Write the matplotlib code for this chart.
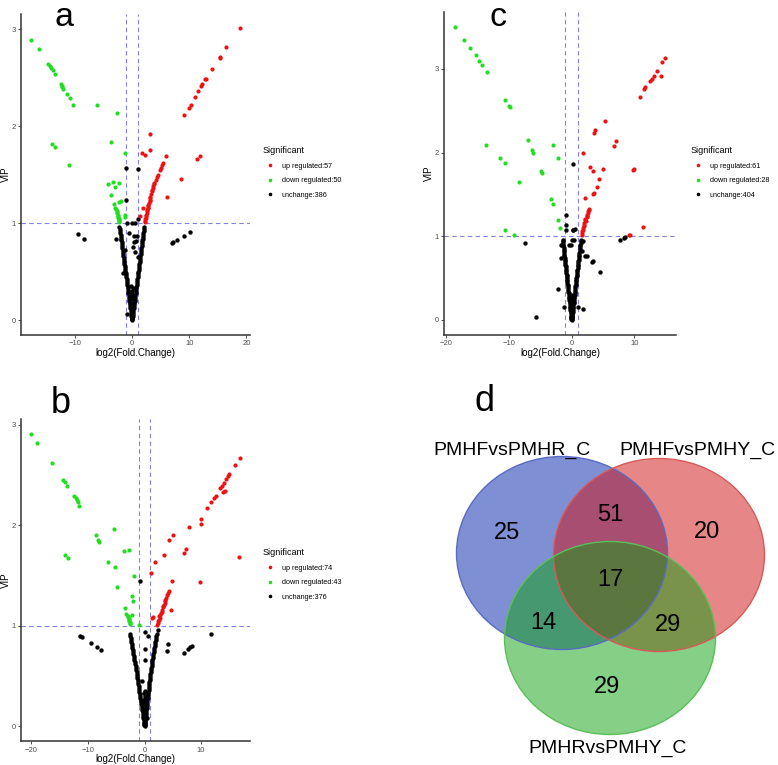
import matplotlib
matplotlib.use("Agg")
import matplotlib.pyplot as plt
from matplotlib.lines import Line2D
from matplotlib.patches import Ellipse

plt.rcParams['font.family'] = ['Liberation Sans', 'DejaVu Sans']

# ---------------- Panel a data ----------------
a_up_x = [18.8, 16.5, 15.4, 15.3, 14.0, 12.9, 12.7, 12.3, 12.1, 11.5, 11.0, 10.3, 9.9, 9.1,
          3.2, 3.2, 1.7, 2.3, 5.9, 5.4, 5.3, 4.9, 4.4, 3.9, 3.7, 3.5, 3.3, 3.2, 3.1, 2.8, 2.7,
          2.4, 2.3, 2.2, 1.9, 1.3, 11.8, 11.4, 8.6, 6.1,
          2.25, 2.35, 2.45, 2.55, 2.6, 2.65, 2.75, 2.85, 2.95, 3.05, 3.15, 3.4, 3.6, 3.8, 4.1, 4.6, 5.0]
a_up_y = [3.01, 2.82, 2.71, 2.70, 2.59, 2.49, 2.48, 2.43, 2.41, 2.36, 2.30, 2.22, 2.19, 2.11,
          1.92, 1.75, 1.72, 1.70, 1.69, 1.62, 1.60, 1.55, 1.47, 1.41, 1.38, 1.34, 1.30, 1.26, 1.23, 1.19, 1.16,
          1.08, 1.04, 1.01, 1.16, 1.07, 1.69, 1.66, 1.45, 1.27,
          1.02, 1.05, 1.07, 1.10, 1.12, 1.13, 1.15, 1.18, 1.21, 1.24, 1.27, 1.33, 1.36, 1.40, 1.44, 1.50, 1.57]
a_down_x = [-17.6, -16.2, -14.7, -14.4, -14.1, -13.9, -13.5, -12.5, -12.3, -12.2, -12.1, -11.4, -10.9,
            -10.3, -6.1, -2.7, -14.0, -13.4, -11.0, -3.7, -1.2, -4.2, -3.4, -2.2, -3.0, -3.7, -2.0,
            -2.2, -3.1, -2.8, -2.7, -2.5, -1.2, -1.2, -2.4, -2.2, -2.3, -2.5, -2.6, -2.3, -2.9, -2.6,
            -2.4, -2.35, -2.25]
a_down_y = [2.89, 2.79, 2.64, 2.62, 2.60, 2.58, 2.54, 2.43, 2.41, 2.40, 2.38, 2.33, 2.29,
            2.22, 2.22, 2.13, 1.81, 1.78, 1.60, 1.84, 1.72, 1.40, 1.42, 1.41, 1.37, 1.29, 1.23,
            1.22, 1.20, 1.14, 1.11, 1.08, 1.08, 1.06, 1.05, 1.02, 1.03, 1.07, 1.10, 1.04, 1.16, 1.12,
            1.06, 1.04, 1.01]
a_ns_x = [-0.03, -0.05, -0.08, -0.10, -0.14, -0.18, -0.23, -0.28, -0.32, -0.37, -0.41, -0.46, -0.51,
          -0.55, -0.60, -0.64, -0.69, -0.74, -0.78, -0.83, -0.87, -0.92, -0.97, -1.01, -1.06, -1.10,
          -1.15, -1.20, -1.24, -1.29, -1.33, -1.38, -1.43, -1.47, -1.52, -1.56, -1.61, -1.66, -1.70,
          -1.75, -1.79, -1.84, -1.89, -1.93, -1.98, -2.02, -2.07, -2.12, -2.16, -2.21,
          0.02, 0.04, 0.07, 0.09, 0.13, 0.18, 0.22, 0.26, 0.31, 0.35, 0.40, 0.44, 0.48, 0.53, 0.57,
          0.62, 0.66, 0.70, 0.75, 0.79, 0.84, 0.88, 0.92, 0.97, 1.01, 1.06, 1.10, 1.14, 1.19, 1.23,
          1.28, 1.32, 1.36, 1.41, 1.45, 1.50, 1.54, 1.58, 1.63, 1.67, 1.72, 1.76, 1.80, 1.85, 1.89,
          1.94, 1.98, 2.02, 2.07, 2.11,
          0.0, 0.05, -0.02, 0.03, -0.05, 0.04, 0.0, 0.02, -0.1, 0.1, -0.15, 0.12,
          -9.4, -8.4, -2.8, -1.0, 1.0, -1.0, -0.87, -0.05, 0.5, 1.0, 0.4, 0.9, 0.3, -0.6, 0.5,
          -1.6, -0.9, 7.0, 7.2, 7.8, 9.1, 10.1, 0.75, 0.1, -1.2, 1.1]
a_ns_y = [0.01, 0.02, 0.03, 0.04, 0.06, 0.08, 0.10, 0.12, 0.14, 0.16, 0.18, 0.20, 0.22,
          0.24, 0.26, 0.28, 0.30, 0.32, 0.34, 0.36, 0.38, 0.40, 0.42, 0.44, 0.46, 0.48,
          0.50, 0.52, 0.54, 0.56, 0.58, 0.60, 0.62, 0.64, 0.66, 0.68, 0.70, 0.72, 0.74,
          0.76, 0.78, 0.80, 0.82, 0.84, 0.86, 0.88, 0.90, 0.92, 0.94, 0.96,
          0.01, 0.02, 0.03, 0.04, 0.06, 0.08, 0.10, 0.12, 0.14, 0.16, 0.18, 0.20, 0.22, 0.24, 0.26,
          0.28, 0.30, 0.32, 0.34, 0.36, 0.38, 0.40, 0.42, 0.44, 0.46, 0.48, 0.50, 0.52, 0.54, 0.56,
          0.58, 0.60, 0.62, 0.64, 0.66, 0.68, 0.70, 0.72, 0.74, 0.76, 0.78, 0.80, 0.82, 0.84, 0.86,
          0.88, 0.90, 0.92, 0.94, 0.96,
          0.0, 0.05, 0.12, 0.18, 0.25, 0.30, 0.08, 0.22, 0.28, 0.33, 0.35, 0.26,
          0.89, 0.84, 0.84, 1.57, 1.56, 1.24, 1.0, 1.0, 1.0, 1.04, 0.87, 0.87, 0.80, 0.90, 0.70,
          0.48, 0.06, 0.79, 0.80, 0.82, 0.87, 0.91, 0.81, 0.75, 0.72, 0.65]
a_legend = ["up regulated:57", "down regulated:50", "unchange:386"]

# ---------------- Panel b data ----------------
b_up_x = [16.8, 16.0, 15.0, 14.7, 14.4, 14.0, 13.7, 13.4, 13.8, 14.2, 12.6, 12.3, 11.8, 11.1, 10.0,
          10.0, 7.8, 5.1, 4.4, 3.5, 1.8, 1.2, 4.9, 7.4, 7.0, 9.8, 16.7, 4.6, 1.5, 1.4,
          4.3, 4.0, 3.7, 3.4, 3.1, 2.8, 2.5, 2.2, 2.35, 2.65, 2.95, 3.25, 3.55, 3.85, 4.15,
          2.4, 2.6, 3.0, 3.3, 3.6]
b_up_y = [2.67, 2.60, 2.51, 2.49, 2.46, 2.42, 2.39, 2.37, 2.33, 2.34, 2.29, 2.27, 2.23, 2.17, 2.06,
          2.01, 1.98, 1.90, 1.85, 1.70, 1.63, 1.52, 1.45, 1.76, 1.72, 1.44, 1.68, 1.16, 1.09, 1.08,
          1.35, 1.31, 1.26, 1.21, 1.16, 1.11, 1.06, 1.01, 1.03, 1.08, 1.13, 1.19, 1.23, 1.28, 1.33,
          1.05, 1.10, 1.14, 1.20, 1.25]
b_down_x = [-20.0, -19.0, -16.3, -14.4, -14.1, -13.7, -12.5, -12.2, -11.9, -11.7, -11.5, -14.1, -13.5,
            -8.6, -8.2, -8.0, -5.4, -3.7, -2.7, -6.4, -5.2, -4.9, -1.8, -2.3, -2.0, -3.5, -3.2,
            -3.0, -2.3, -2.7, -2.6, -1.06, -2.65, -2.75, -2.8, -2.9, -2.6, -2.7]
b_down_y = [2.91, 2.82, 2.62, 2.45, 2.43, 2.39, 2.29, 2.27, 2.25, 2.23, 2.19, 1.70, 1.67,
            1.90, 1.85, 1.83, 1.96, 1.74, 1.75, 1.63, 1.58, 1.39, 1.49, 1.30, 1.25, 1.18, 1.12,
            1.10, 1.11, 1.07, 1.04, 1.01, 1.02, 1.05, 1.08, 1.09, 1.03, 1.06]
b_ns_x = [-0.02, -0.04, -0.07, -0.10, -0.15, -0.20, -0.25, -0.31, -0.36, -0.42, -0.47, -0.52, -0.57,
          -0.62, -0.68, -0.73, -0.79, -0.84, -0.90, -0.95, -1.00, -1.05, -1.10, -1.15, -1.20, -1.25,
          -1.30, -1.36, -1.41, -1.47, -1.53, -1.59, -1.65, -1.72, -1.78, -1.84, -1.90, -1.96, -2.02,
          -2.09, -2.15, -2.21, -2.27, -2.33, -2.40, -2.46, -2.52, -2.58,
          0.02, 0.03, 0.05, 0.08, 0.11, 0.15, 0.19, 0.23, 0.27, 0.31, 0.35, 0.39, 0.43, 0.47, 0.51,
          0.55, 0.59, 0.63, 0.67, 0.71, 0.75, 0.79, 0.83, 0.87, 0.91, 0.95, 0.99, 1.03, 1.08, 1.13,
          1.18, 1.23, 1.28, 1.33, 1.39, 1.44, 1.50, 1.55, 1.61, 1.66, 1.72, 1.78, 1.84, 1.90, 1.96,
          2.02, 2.08, 2.12,
          0.0, 0.03, -0.03, 0.02, -0.05, 0.05, 0.0, -0.02, 0.08, -0.08, 0.1, -0.1,
          -0.83, -11.4, -11.1, -9.5, -8.4, -7.7, 11.8, 8.4, 8.0, 7.7, 6.9, 4.2, 3.9,
          0.0, 0.65, 0.0, 0.1, 0.5, -0.4, 2.3]
b_ns_y = [0.01, 0.02, 0.03, 0.04, 0.06, 0.08, 0.10, 0.12, 0.14, 0.16, 0.18, 0.20, 0.22,
          0.24, 0.26, 0.28, 0.30, 0.32, 0.34, 0.36, 0.38, 0.40, 0.42, 0.44, 0.46, 0.48,
          0.50, 0.52, 0.54, 0.56, 0.58, 0.60, 0.62, 0.64, 0.66, 0.68, 0.70, 0.72, 0.74,
          0.76, 0.78, 0.80, 0.82, 0.84, 0.86, 0.88, 0.90, 0.92,
          0.01, 0.02, 0.03, 0.04, 0.06, 0.08, 0.10, 0.12, 0.14, 0.16, 0.18, 0.20, 0.22, 0.24, 0.26,
          0.28, 0.30, 0.32, 0.34, 0.36, 0.38, 0.40, 0.42, 0.44, 0.46, 0.48, 0.50, 0.52, 0.54, 0.56,
          0.58, 0.60, 0.62, 0.64, 0.66, 0.68, 0.70, 0.72, 0.74, 0.76, 0.78, 0.80, 0.82, 0.84, 0.86,
          0.88, 0.90, 0.92,
          0.0, 0.05, 0.12, 0.18, 0.25, 0.30, 0.08, 0.22, 0.28, 0.33, 0.35, 0.26,
          1.45, 0.90, 0.89, 0.83, 0.79, 0.76, 0.92, 0.80, 0.79, 0.77, 0.73, 0.82, 0.75,
          0.94, 0.90, 0.77, 0.66, 0.08, 0.45, 0.96]
b_legend = ["up regulated:74", "down regulated:43", "unchange:376"]

# ---------------- Panel c data ----------------
c_up_x = [15.0, 14.5, 13.7, 13.1, 12.8, 12.5, 14.3, 11.8, 11.6, 10.9, 5.4, 3.8, 3.6, 7.1, 6.7, 1.8,
          2.9, 3.5, 5.0, 10.0, 9.8, 4.4, 4.0, 3.6, 3.5, 2.1, 11.4, 9.4, 9.2,
          2.8, 2.6, 2.5, 2.3, 2.0, 1.7, 1.6, 1.65, 1.75, 1.85, 1.95, 2.05, 2.15, 2.2, 2.4, 2.45, 2.7, 2.75]
c_up_y = [3.13, 3.08, 2.98, 2.92, 2.88, 2.86, 2.91, 2.78, 2.76, 2.66, 2.38, 2.27, 2.23, 2.14, 2.08, 1.99,
          1.83, 1.78, 1.80, 1.80, 1.79, 1.68, 1.59, 1.52, 1.50, 1.46, 1.11, 1.02, 1.02,
          1.33, 1.28, 1.23, 1.18, 1.12, 1.06, 1.02, 1.04, 1.08, 1.10, 1.14, 1.16, 1.19, 1.21, 1.24, 1.26, 1.30, 1.31]
c_down_x = [-18.7, -17.2, -16.2, -15.3, -14.8, -14.3, -13.5, -10.6, -10.0, -9.9, -13.6, -11.5, -10.7,
            -7.0, -6.3, -6.1, -4.9, -4.7, -3.0, -2.2, -8.4, -3.3, -3.0, -2.2, -1.9, -10.6, -9.2]
c_down_y = [3.50, 3.35, 3.25, 3.16, 3.10, 3.05, 2.96, 2.63, 2.56, 2.54, 2.09, 1.93, 1.87,
            2.15, 2.03, 2.00, 1.78, 1.76, 2.09, 1.94, 1.65, 1.44, 1.39, 1.20, 1.10, 1.08, 1.02]
c_ns_x = [-0.02, -0.03, -0.05, -0.06, -0.09, -0.12, -0.15, -0.18, -0.21, -0.24, -0.27, -0.30, -0.33,
          -0.36, -0.39, -0.42, -0.45, -0.48, -0.51, -0.54, -0.57, -0.60, -0.63, -0.66, -0.69, -0.72,
          -0.75, -0.78, -0.81, -0.84, -0.87, -0.90, -0.93, -0.96, -0.99, -1.02, -1.05, -1.08, -1.11,
          -1.14, -1.17, -1.20, -1.23, -1.26, -1.29, -1.32, -1.35, -1.38, -1.41, -1.44,
          0.02, 0.03, 0.05, 0.06, 0.09, 0.12, 0.16, 0.19, 0.22, 0.25, 0.28, 0.31, 0.34, 0.37, 0.40,
          0.43, 0.47, 0.50, 0.53, 0.56, 0.59, 0.62, 0.65, 0.68, 0.71, 0.74, 0.78, 0.81, 0.84, 0.87,
          0.90, 0.93, 0.96, 0.99, 1.02, 1.05, 1.09, 1.12, 1.15, 1.18, 1.21, 1.24, 1.27, 1.30, 1.33,
          1.36, 1.40, 1.43, 1.46, 1.49,
          0.0, 0.03, -0.03, 0.02, -0.04, 0.04, 0.0, -0.02,
          -7.4, -5.7, -2.2, -1.65, -1.65, -1.2, -0.96, -0.96, 0.2, 0.6, 0.1, 0.4, -0.4, -0.1,
          1.0, 1.8, 2.2, 2.4, 3.3, 3.4, 4.5, 7.7, 8.4, 8.5, 0.27, 1.6, -0.85, 0.3, 1.9]
c_ns_y = [0.01, 0.02, 0.03, 0.04, 0.06, 0.08, 0.10, 0.12, 0.14, 0.16, 0.18, 0.20, 0.22,
          0.24, 0.26, 0.28, 0.30, 0.32, 0.34, 0.36, 0.38, 0.40, 0.42, 0.44, 0.46, 0.48,
          0.50, 0.52, 0.54, 0.56, 0.58, 0.60, 0.62, 0.64, 0.66, 0.68, 0.70, 0.72, 0.74,
          0.76, 0.78, 0.80, 0.82, 0.84, 0.86, 0.88, 0.90, 0.92, 0.94, 0.96,
          0.01, 0.02, 0.03, 0.04, 0.06, 0.08, 0.10, 0.12, 0.14, 0.16, 0.18, 0.20, 0.22, 0.24, 0.26,
          0.28, 0.30, 0.32, 0.34, 0.36, 0.38, 0.40, 0.42, 0.44, 0.46, 0.48, 0.50, 0.52, 0.54, 0.56,
          0.58, 0.60, 0.62, 0.64, 0.66, 0.68, 0.70, 0.72, 0.74, 0.76, 0.78, 0.80, 0.82, 0.84, 0.86,
          0.88, 0.90, 0.92, 0.94, 0.96,
          0.0, 0.05, 0.12, 0.18, 0.25, 0.30, 0.08, 0.22,
          0.92, 0.04, 0.37, 0.74, 0.90, 0.15, 1.25, 1.13, 1.07, 1.09, 0.96, 0.96, 0.89, 0.89,
          0.16, 0.13, 0.76, 0.77, 0.69, 0.70, 0.57, 0.95, 0.98, 0.99, 1.86, 0.82, 1.07, 1.08, 0.94]
c_legend = ["up regulated:61", "down regulated:28", "unchange:404"]

# ---------------- Panel d (Venn) data ----------------
venn_sets = ["PMHFvsPMHR_C", "PMHFvsPMHY_C", "PMHRvsPMHY_C"]
venn_counts = {"A": 25, "B": 20, "C": 29, "AB": 51, "AC": 14, "BC": 29, "ABC": 17}

W, H = 778, 765
fig = plt.figure(figsize=(W / 100, H / 100), dpi=100)

UP_C = '#EE1111'
DOWN_C = '#22DD22'
NS_C = '#000000'
DASH_C = '#8080E6'


def fr(x0, y0, x1, y1):
    return [x0 / W, 1 - y1 / H, (x1 - x0) / W, (y1 - y0) / H]


def volcano(rect, upx, upy, dnx, dny, nsx, nsy, labels, xticks, leg_xy, letter, letter_xy, lsize):
    ax = fig.add_axes(fr(*rect))
    ax.scatter(nsx, nsy, s=10, c=NS_C, linewidths=0, zorder=3)
    ax.scatter(dnx, dny, s=9, c=DOWN_C, linewidths=0, zorder=3)
    ax.scatter(upx, upy, s=9, c=UP_C, linewidths=0, zorder=3)
    allx = list(upx) + list(dnx) + list(nsx)
    ally = list(upy) + list(dny) + list(nsy) + [0]
    lo, hi = min(allx), max(allx)
    pad = 0.05 * (hi - lo)
    ax.set_xlim(lo - pad, hi + pad)
    ylo, yhi = min(ally), max(ally)
    ypad = 0.05 * (yhi - ylo)
    ax.set_ylim(ylo - ypad, yhi + ypad)
    for xv in (-1, 1):
        ax.axvline(xv, color=DASH_C, lw=0.8, ls=(0, (4, 3)), zorder=1)
    ax.axhline(1, color=DASH_C, lw=0.8, ls=(0, (4, 3)), zorder=1)
    ax.set_xticks(xticks)
    ax.set_yticks([0, 1, 2, 3])
    for s in ('top', 'right'):
        ax.spines[s].set_visible(False)
    for s in ('left', 'bottom'):
        ax.spines[s].set_color('#333333')
        ax.spines[s].set_linewidth(1.1)
    ax.tick_params(labelsize=5.5, labelcolor='#4D4D4D', color='#333333', length=2.5, width=0.6, pad=1.5)
    ax.set_xlabel('log2(Fold.Change)', fontsize=7, labelpad=0.6)
    ax.set_ylabel('VIP', fontsize=7, labelpad=0.2)
    ax.set_facecolor('none')
    handles = [Line2D([], [], marker='o', ls='', color=c, markersize=2.6, markeredgewidth=0)
               for c in (UP_C, DOWN_C, NS_C)]
    ax.legend(handles, labels, title='Significant', loc='upper left',
              bbox_to_anchor=(leg_xy[0] / W, 1 - leg_xy[1] / H), bbox_transform=fig.transFigure,
              frameon=False, fontsize=5.2, title_fontsize=6.5, handlelength=1.9, handletextpad=0.7,
              labelspacing=1.05, borderaxespad=0, borderpad=0, alignment='left')
    fig.text(letter_xy[0] / W, 1 - letter_xy[1] / H, letter, fontsize=lsize,
             ha='center', va='baseline')
    return ax


volcano((21, 13.5, 250, 334.6), a_up_x, a_up_y, a_down_x, a_down_y, a_ns_x, a_ns_y,
        a_legend, [-10, 0, 10, 20], (263, 146), 'a', (64, 26.5), 24.5)
volcano((21, 419, 250, 741), b_up_x, b_up_y, b_down_x, b_down_y, b_ns_x, b_ns_y,
        b_legend, [-20, -10, 0, 10], (263, 548), 'b', (61, 413), 26)
volcano((444, 12.4, 676, 334.6), c_up_x, c_up_y, c_down_x, c_down_y, c_ns_x, c_ns_y,
        c_legend, [-20, -10, 0, 10], (691, 146), 'c', (498, 26.5), 24.5)

# Venn diagram
axv = fig.add_axes(fr(430, 380, 778, 765))
axv.set_xlim(430, 778)
axv.set_ylim(765, 380)
axv.axis('off')
circles = [((562, 553), '#0120A9', '#5A6CC0'),
           ((659, 555), '#D10F0F', '#D65A5A'),
           ((610, 638), '#0FA10F', '#5BBE5B')]
for (cx, cy), fc, ec in circles:
    axv.add_patch(Ellipse((cx, cy), 211, 193, facecolor=fc, alpha=0.5, edgecolor='none'))
for (cx, cy), fc, ec in circles:
    axv.add_patch(Ellipse((cx, cy), 211, 193, fill=False, edgecolor=ec, lw=1.0))

label_pos = [(512, 450), (697, 450), (608, 748)]
for name, (lx, ly) in zip(venn_sets, label_pos):
    axv.text(lx, ly, name, fontsize=14, ha='center', va='center')

count_pos = {"A": (507, 533), "AB": (610, 515), "B": (707, 532), "ABC": (610, 580),
             "AC": (543, 623), "BC": (668, 625), "C": (607, 687)}
for k, (tx, ty) in count_pos.items():
    axv.text(tx, ty, str(venn_counts[k]), fontsize=17, ha='center', va='center')

fig.text(484 / W, 1 - 411 / H, 'd', fontsize=26, ha='center', va='baseline')

fig.savefig('out.png', dpi=100)
